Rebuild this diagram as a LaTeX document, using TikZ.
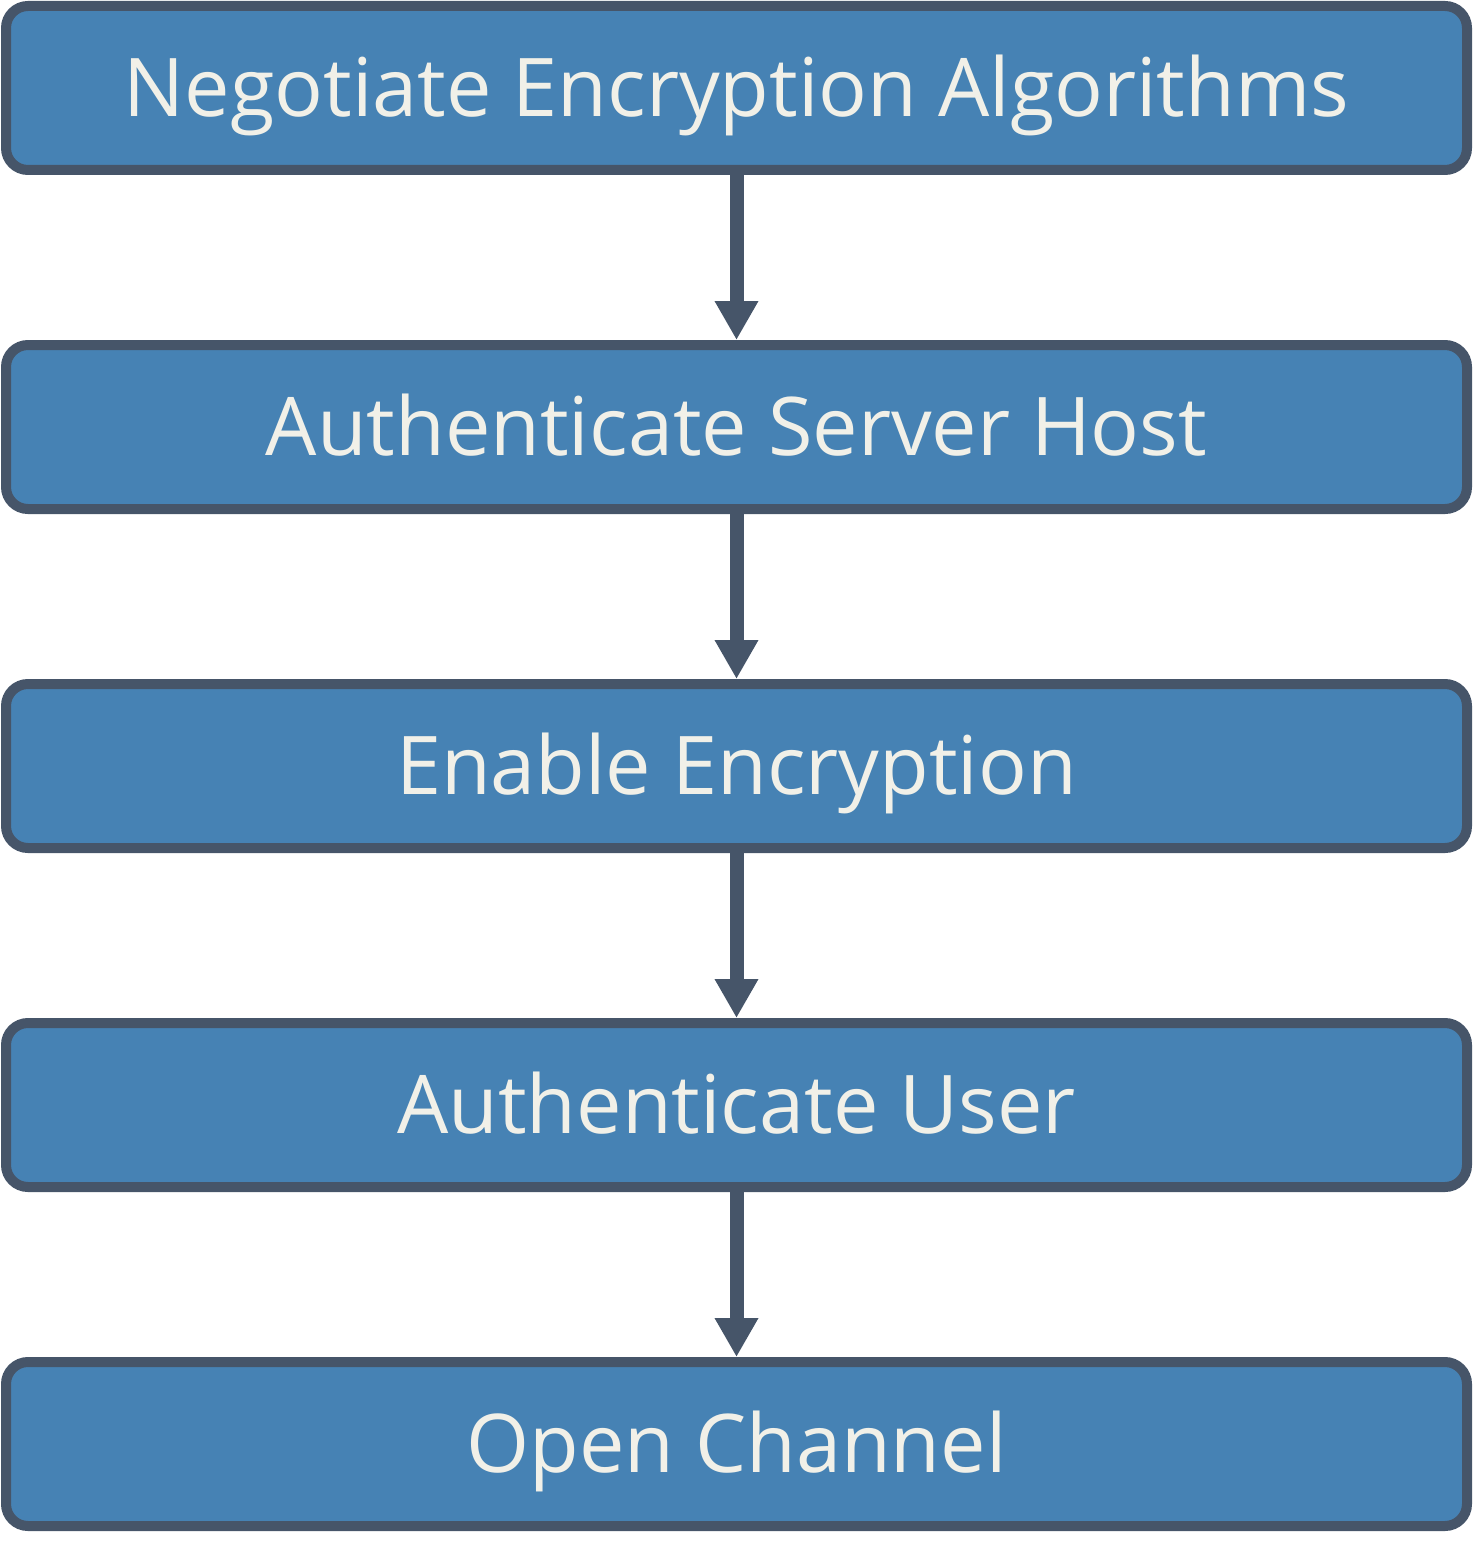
\documentclass[tikz,border=0pt]{standalone}
\usepackage{fontspec}
\setmainfont{Open Sans}
\usetikzlibrary{arrows.meta}
\usetikzlibrary{positioning}

\definecolor{stepfill}{HTML}{4682B4}
\definecolor{stepline}{HTML}{465569}
\definecolor{steptext}{HTML}{F1F0E8}

\tikzset{
  stepbox/.style={draw=stepline, fill=stepfill, text=steptext, line width=10pt,
    rounded corners=22pt, minimum width=1461pt, minimum height=164pt,
    text height=57pt, text depth=0pt,
    font=\fontsize{81}{96}\selectfont},
  flow/.style={draw=stepline, line width=14pt,
    -{Triangle[width=41pt,length=39pt]}}
}

\begin{document}
\begin{tikzpicture}[x=1pt, y=1pt, node distance=165pt]

  \useasboundingbox (0, 0) rectangle (1475, -1549);

%%%%%%%%%%%% Steps
  \node[stepbox] (neg) at (736.5, -88) {Negotiate Encryption Algorithms};
  \node[stepbox, below=of neg] (host) {Authenticate Server Host};
  \node[stepbox, below=of host] (enc) {Enable Encryption};
  \node[stepbox, below=of enc] (user) {Authenticate User};
  \node[stepbox, below=of user] (chan) {Open Channel};

%%%%%%%%%%%% Arrows
  \foreach \a/\b in {neg/host, host/enc, enc/user, user/chan} {
    \draw[flow] (\a.south) -- (\b.north);
  }
\end{tikzpicture}
\end{document}
